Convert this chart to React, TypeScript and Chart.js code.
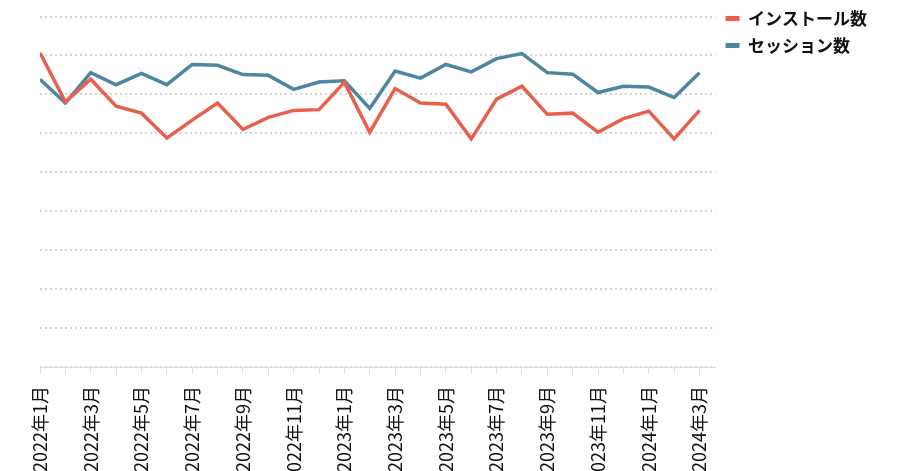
import React, { useEffect, useRef } from 'react';
import { Chart, registerables } from 'chart.js';
Chart.register(...registerables);

const months = [
  '2022年1月', '2022年2月', '2022年3月', '2022年4月', '2022年5月', '2022年6月',
  '2022年7月', '2022年8月', '2022年9月', '2022年10月', '2022年11月', '2022年12月',
  '2023年1月', '2023年2月', '2023年3月', '2023年4月', '2023年5月', '2023年6月',
  '2023年7月', '2023年8月', '2023年9月', '2023年10月', '2023年11月', '2023年12月',
  '2024年1月', '2024年2月', '2024年3月',
];

const installs = [
  80.7, 68.1, 73.9, 67.0, 65.2, 58.8, 63.4, 67.8, 61.0, 64.1, 65.9, 66.1,
  73.1, 60.3, 71.5, 67.8, 67.5, 58.6, 68.8, 72.1, 64.9, 65.2, 60.3, 63.8,
  65.7, 58.6, 65.9,
];

const sessions = [
  73.9, 67.8, 75.6, 72.5, 75.4, 72.5, 77.7, 77.5, 75.1, 74.9, 71.3, 73.2,
  73.5, 66.4, 76.0, 74.2, 77.7, 75.8, 79.2, 80.5, 75.6, 75.2, 70.5, 72.1,
  71.9, 69.2, 75.6,
];

const seriesNames = ['インストール数', 'セッション数'];
const RED = '#e8604c';
const BLUE = '#4d86a0';
const FONT = '"Noto Sans CJK JP", "Noto Sans", sans-serif';

export default function App() {
  const ref = useRef<HTMLCanvasElement>(null);
  useEffect(() => {
    const chart = new Chart(ref.current!, {
      type: 'line',
      data: {
        datasets: [
          {
            label: seriesNames[0],
            data: installs.map((y, i) => ({ x: i, y })),
            borderColor: RED,
            backgroundColor: RED,
            borderWidth: 3.5,
            pointRadius: 0,
            tension: 0,
          },
          {
            label: seriesNames[1],
            data: sessions.map((y, i) => ({ x: i, y })),
            borderColor: BLUE,
            backgroundColor: BLUE,
            borderWidth: 3.5,
            pointRadius: 0,
            tension: 0,
          },
        ],
      },
      options: {
        animation: false,
        responsive: true,
        maintainAspectRatio: false,
        layout: { padding: { left: 40, top: 0, right: 23, bottom: 0 } },
        plugins: {
          tooltip: { enabled: false },
          legend: {
            position: 'right',
            align: 'start',
            labels: {
              color: '#111',
              font: { family: FONT, size: 17, weight: 'bold' },
              boxWidth: 14,
              boxHeight: 5,
              useBorderRadius: true,
              borderRadius: 2.5,
              padding: 10,
              generateLabels: (c: any) =>
                c.data.datasets.map((d: any, i: number) => ({
                  text: d.label,
                  fillStyle: d.borderColor,
                  strokeStyle: d.borderColor,
                  lineWidth: 0,
                  hidden: false,
                  datasetIndex: i,
                  fontColor: '#111',
                })),
            },
          },
        },
        scales: {
          x: {
            type: 'linear',
            min: 0,
            max: 26.63,
            ticks: {
              stepSize: 1,
              includeBounds: false,
              autoSkip: false,
              maxRotation: 90,
              minRotation: 90,
              padding: 12,
              color: '#111',
              font: { family: FONT, size: 18 },
              callback: (v: any) =>
                Number.isInteger(v) && v % 2 === 0 ? months[v] : '',
            },
            grid: { drawOnChartArea: false, tickLength: 7, color: '#dddddd' },
            border: { color: '#dddddd' },
          },
          y: {
            min: 0,
            max: 94.25,
            ticks: { display: false, stepSize: 10, includeBounds: false },
            grid: { color: '#d4d4d4', lineWidth: 2, drawTicks: false },
            border: { display: false, dash: [2, 3] },
          },
        },
      },
    } as any);
    return () => chart.destroy();
  }, []);
  return (
    <div style={{ position: 'absolute', left: 0, top: 0, width: 900, height: 494 }}>
      <canvas ref={ref} />
    </div>
  );
}
